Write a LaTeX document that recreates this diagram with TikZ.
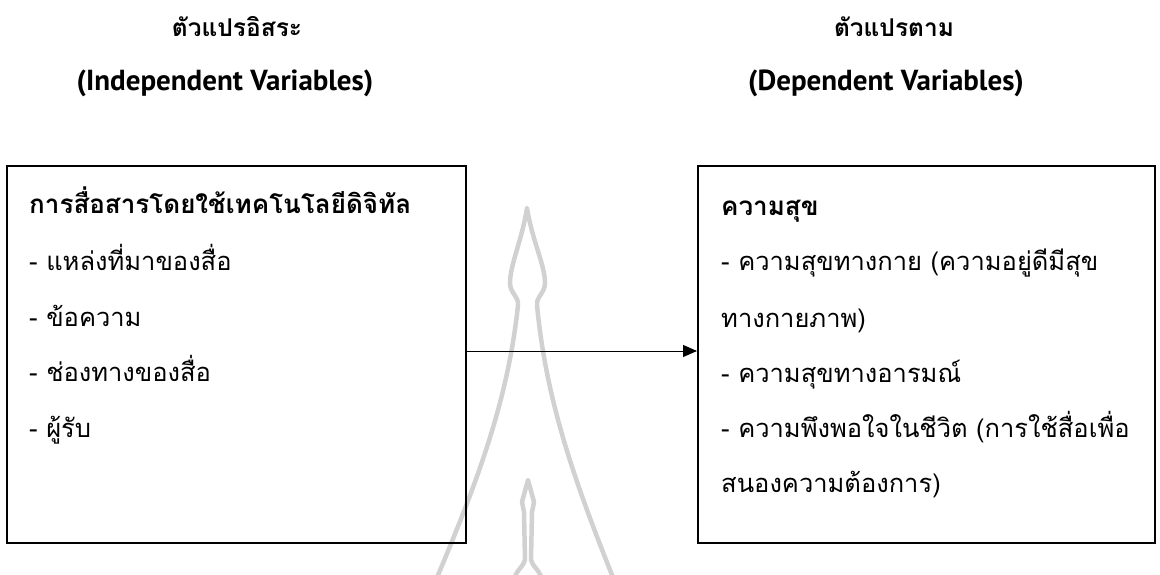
\documentclass[tikz,border=0pt]{standalone}
\usepackage{fontspec}
\setmainfont{Loma}[Script=Thai]
\newfontfamily\latinfont{PT Sans}
\usetikzlibrary{arrows.meta}
\begin{document}
\begin{tikzpicture}[x=1pt,y=-1pt,
  box/.style={draw=black,line width=2pt,minimum width=#1,minimum height=377pt,inner sep=0pt},
  txt/.style={anchor=base west,inner sep=0pt,font=\fontsize{25.5}{30}\selectfont},
  btxt/.style={anchor=base west,inner sep=0pt,font=\fontsize{26}{30}\selectfont\bfseries},
  head/.style={anchor=base,inner sep=0pt,font=\fontsize{24.5}{30}\selectfont\bfseries},
  headl/.style={anchor=base,inner sep=0pt,font=\fontsize{29}{30}\selectfont\latinfont\bfseries},
  wm/.style={draw=black!18,line width=4.5pt,line join=round},
  arr/.style={draw=black,line width=1pt,-{Triangle[length=14pt,width=12pt]}}]
\useasboundingbox (0,0) rectangle (1160,575);
% watermark
\begin{scope}
\clip (0,0) rectangle (1160,575);
\draw[wm] (436,580) .. controls (478,480) and (508,400) .. (518,305)
  .. controls (519,297) and (510,293) .. (510,283)
  .. controls (510,265) and (522,240) .. (527,208)
  .. controls (532,240) and (545,265) .. (545,283)
  .. controls (545,293) and (536,297) .. (537,305)
  .. controls (546,400) and (574,480) .. (614,580);
\draw[wm] (514,580) .. controls (516,570) and (524,566) .. (525,560)
  -- (524,512) -- (522,502) -- (528,480) -- (534,502) -- (532,512) -- (531,560)
  .. controls (532,566) and (540,570) .. (542,580);
\end{scope}
% headings
\node[head] (h1) at (237,37) {ตัวแปรอิสระ};
\node[headl] (h1e) at (225,91) {(Independent Variables)};
\node[head] (h2) at (894,37) {ตัวแปรตาม};
\node[headl] (h2e) at (886,91) {(Dependent Variables)};
% boxes
\node[box=459pt] (L) at (236.5,354.5) {};
\node[box=457pt] (R) at (926.5,354.5) {};
% left text
\node[btxt] (l0) at (29,213) {การสื่อสารโดยใช้เทคโนโลยีดิจิทัล};
\node[txt] (l1) at (29,270) {- แหล่งที่มาของสื่อ};
\node[txt] (l2) at (29,326) {- ข้อความ};
\node[txt] (l3) at (29,381) {- ช่องทางของสื่อ};
\node[txt] (l4) at (29,437) {- ผู้รับ};
% right text
\node[btxt] (r0) at (721,215) {ความสุข};
\node[txt] (r1) at (721,270) {- ความสุขทางกาย (ความอยู่ดีมีสุข};
\node[txt] (r2) at (721,327) {ทางกายภาพ)};
\node[txt] (r3) at (721,382) {- ความสุขทางอารมณ์};
\node[txt] (r4) at (721,437) {- ความพึงพอใจในชีวิต (การใช้สื่อเพื่อ};
\node[txt] (r5) at (721,492) {สนองความต้องการ)};
% arrow
\draw[arr] ([yshift=3.5pt]L.east) -- ([yshift=3.5pt]R.west);
\end{tikzpicture}
\end{document}
